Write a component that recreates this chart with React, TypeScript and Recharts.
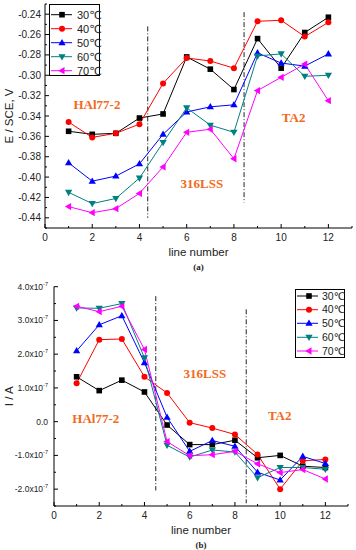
import React from 'react';
import { LineChart, Line, XAxis, YAxis, ReferenceLine, ReferenceDot, Legend, Label } from 'recharts';

// ---------- data ----------
const lineNumbers = [1, 2, 3, 4, 5, 6, 7, 8, 9, 10, 11, 12];
const seriesNames = ['30℃', '40℃', '50℃', '60℃', '70℃'];

// (a) potential E / SCE, V
const potential30 = [-0.355, -0.358, -0.357, -0.342, -0.338, -0.282, -0.294, -0.314, -0.264, -0.293, -0.258, -0.243];
const potential40 = [-0.346, -0.361, -0.357, -0.348, -0.308, -0.283, -0.286, -0.293, -0.247, -0.246, -0.262, -0.248];
const potential50 = [-0.386, -0.404, -0.399, -0.387, -0.358, -0.336, -0.331, -0.329, -0.278, -0.288, -0.291, -0.279];
const potential60 = [-0.415, -0.426, -0.421, -0.401, -0.366, -0.332, -0.349, -0.356, -0.281, -0.279, -0.301, -0.300];
const potential70 = [-0.429, -0.435, -0.431, -0.416, -0.390, -0.356, -0.353, -0.382, -0.315, -0.302, -0.289, -0.325];

// (b) current I / A, in units of 1e-7 A
const current30 = [1.33, 0.92, 1.23, 0.88, -0.10, -0.68, -0.68, -0.55, -1.07, -1.00, -1.32, -1.36];
const current40 = [1.14, 2.43, 2.45, 1.33, 0.85, -0.03, -0.19, -0.38, -0.97, -2.00, -1.16, -1.12];
const current50 = [2.10, 2.87, 3.14, 1.75, 0.13, -0.88, -0.56, -0.73, -1.50, -1.73, -1.03, -1.24];
const current60 = [3.37, 3.36, 3.50, 1.89, -0.70, -1.05, -0.84, -0.90, -1.66, -1.36, -1.36, -1.41];
const current70 = [3.42, 3.26, 3.42, 2.14, -0.59, -1.01, -0.98, -0.88, -1.25, -1.51, -1.42, -1.70];

const xTicks = [0, 1, 2, 3, 4, 5, 6, 7, 8, 9, 10, 11, 12, 13];
const xLabelTicks = [0, 2, 4, 6, 8, 10, 12];
const yTicksA = [-0.45, -0.44, -0.43, -0.42, -0.41, -0.40, -0.39, -0.38, -0.37, -0.36, -0.35, -0.34, -0.33, -0.32, -0.31, -0.30, -0.29, -0.28, -0.27, -0.26, -0.25, -0.24, -0.23];
const yLabelTicksA = [-0.44, -0.42, -0.40, -0.38, -0.36, -0.34, -0.32, -0.30, -0.28, -0.26, -0.24];
const yTicksB = [-2.5, -2, -1.5, -1, -0.5, 0, 0.5, 1, 1.5, 2, 2.5, 3, 3.5, 4];
const yLabelTicksB = [-2, -1, 0, 1, 2, 3, 4];

// material regions (boundaries, in data coordinates)
const boundariesA = [
  { x: 4.35, y1: -0.252, y2: -0.44 },
  { x: 8.43, y1: -0.238, y2: -0.425 },
];
const boundariesB = [
  { x: 4.5, y1: 3.72, y2: -2.04 },
  { x: 8.5, y1: 3.33, y2: -2.42 },
];
const labelsA = [
  { text: 'HAl77-2', x: 2.2, y: -0.3285 },
  { text: '316LSS', x: 6.64, y: -0.406 },
  { text: 'TA2', x: 10.53, y: -0.3413 },
];
const labelsB = [
  { text: 'HAl77-2', x: 1.85, y: 0.11 },
  { text: '316LSS', x: 6.67, y: 1.44 },
  { text: 'TA2', x: 9.98, y: 0.2 },
];

const dataA = lineNumbers.map((n, i) => ({
  n, s30: potential30[i], s40: potential40[i], s50: potential50[i], s60: potential60[i], s70: potential70[i],
}));
const dataB = lineNumbers.map((n, i) => ({
  n, s30: current30[i], s40: current40[i], s50: current50[i], s60: current60[i], s70: current70[i],
}));

// ---------- styles ----------
const SANS = '"Liberation Sans", Arial, "DejaVu Sans", sans-serif';
const SERIF = '"Liberation Serif", "Times New Roman", serif';
const ORANGE = '#f26a1b';
const seriesStyle = [
  { key: 's30', color: '#000000', shape: 'square' },
  { key: 's40', color: '#ff0000', shape: 'circle' },
  { key: 's50', color: '#0000ff', shape: 'up' },
  { key: 's60', color: '#008080', shape: 'down' },
  { key: 's70', color: '#ff00ff', shape: 'left' },
];

function Marker({ shape, cx, cy, color, s = 2.8 }: any) {
  if (cx == null || cy == null) return null;
  switch (shape) {
    case 'square':
      return <rect x={cx - s} y={cy - s} width={2 * s} height={2 * s} fill={color} />;
    case 'circle':
      return <circle cx={cx} cy={cy} r={s + 0.2} fill={color} />;
    case 'up':
      return <polygon points={`${cx},${cy - s * 1.35} ${cx - s * 1.3},${cy + s * 0.9} ${cx + s * 1.3},${cy + s * 0.9}`} fill={color} />;
    case 'down':
      return <polygon points={`${cx},${cy + s * 1.35} ${cx - s * 1.3},${cy - s * 0.9} ${cx + s * 1.3},${cy - s * 0.9}`} fill={color} />;
    case 'left':
      return <polygon points={`${cx - s * 1.35},${cy} ${cx + s * 0.9},${cy - s * 1.3} ${cx + s * 0.9},${cy + s * 1.3}`} fill={color} />;
    default:
      return null;
  }
}

const makeDot = (shape: string, color: string) => (props: any) => (
  <g key={`${shape}-${props.index}`}>
    <Marker shape={shape} cx={props.cx} cy={props.cy} color={color} />
  </g>
);

const XTick = (props: any) => {
  const { x, y, payload } = props;
  const v = payload.value;
  const major = xLabelTicks.includes(v);
  return (
    <g>
      <line x1={x} x2={x} y1={y} y2={y - (major ? 4 : 2)} stroke="#000" />
      {major && (
        <text x={x} y={y + 13} textAnchor="middle" fontSize={10} fill="#222" fontFamily={SANS}>{v}</text>
      )}
    </g>
  );
};

const YTickA = (props: any) => {
  const { x, y, payload } = props;
  const v = payload.value;
  const major = yLabelTicksA.some((t) => Math.abs(t - v) < 1e-6);
  return (
    <g>
      <line x1={x} x2={x + (major ? 4 : 2)} y1={y} y2={y} stroke="#000" />
      {major && (
        <text x={x - 4} y={y} dy="0.35em" textAnchor="end" fontSize={10} fill="#222" fontFamily={SANS}>{v.toFixed(2)}</text>
      )}
    </g>
  );
};

const YTickARight = (props: any) => {
  const { x, y, payload } = props;
  const v = payload.value;
  const major = yLabelTicksA.some((t) => Math.abs(t - v) < 1e-6);
  if (!major) return null;
  return <line x1={x} x2={x - 4} y1={y} y2={y} stroke="#000" />;
};

const YTickB = (props: any) => {
  const { x, y, payload } = props;
  const v = payload.value;
  const major = yLabelTicksB.includes(v);
  return (
    <g>
      <line x1={x} x2={x + (major ? 4 : 2)} y1={y} y2={y} stroke="#000" />
      {major && (
        <text x={x - 6} y={y} dy="0.35em" textAnchor="end" fontSize={8.5} fill="#222" fontFamily={SANS}>
          {v === 0 ? '0.0' : (
            <>
              <tspan>{`${v.toFixed(1)}x10`}</tspan>
              <tspan dy={-4} fontSize={5.5}>-7</tspan>
            </>
          )}
        </text>
      )}
    </g>
  );
};

const LegendBox = ({ width, height, rows, fontSize, lineX2, markerX, textX }: any) => (
  <svg width={width} height={height} style={{ display: 'block', overflow: 'visible' }}>
    <rect x={0.5} y={0.5} width={width - 1} height={height - 1} fill="#fff" stroke="#000" />
    {seriesStyle.map((s, i) => (
      <g key={s.key}>
        <line x1={2} x2={lineX2} y1={rows[i]} y2={rows[i]} stroke={s.color} />
        <Marker shape={s.shape} cx={markerX} cy={rows[i]} color={s.color} />
        <text x={textX} y={rows[i]} dy="0.35em" fontSize={fontSize} fill="#222" fontFamily={SANS}>{seriesNames[i]}</text>
      </g>
    ))}
  </svg>
);

const yTitle = (text: string) => (props: any) => {
  const vb = props.viewBox || {};
  const cy = vb.y + vb.height / 2;
  return (
    <text x={9} y={cy} transform={`rotate(-90, 9, ${cy})`} textAnchor="middle" dominantBaseline="central" fontSize={11.5} fill="#222" fontFamily={SANS}>{text}</text>
  );
};

const xTitle = (text: string, caption: string) => (props: any) => {
  const vb = props.viewBox || {};
  const cx = vb.x + vb.width / 2;
  return (
    <g>
      <text x={cx} y={vb.y + 24} textAnchor="middle" dominantBaseline="central" fontSize={11.5} fill="#222" fontFamily={SANS}>{text}</text>
      <text x={cx} y={vb.y + 38.5} textAnchor="middle" dominantBaseline="central" fontSize={9} fontWeight="bold" fill="#222" fontFamily={SERIF}>{caption}</text>
    </g>
  );
};

const regionLabel = (text: string) => ({
  value: text, position: 'center' as const, fill: ORANGE, fontSize: 13, fontWeight: 'bold', fontFamily: SERIF,
});

export default function App() {
  return (
    <div style={{ position: 'absolute', left: 0, top: 0, width: 356, height: 550, background: '#fff' }}>
      <div style={{ position: 'absolute', left: 0, top: 0 }}>
        <LineChart width={356} height={275} data={dataA} margin={{ top: 4, right: 4, bottom: 0, left: 0 }}>
          <XAxis dataKey="n" type="number" domain={[0, 13]} ticks={xTicks} interval={0} height={47}
            tick={<XTick />} tickLine={false} tickSize={0} tickMargin={0} axisLine={{ stroke: '#000' }}>
            <Label content={xTitle('line number', '(a)')} />
          </XAxis>
          <XAxis xAxisId="top" orientation="top" type="number" domain={[0, 13]} height={0} tick={false} tickLine={false} axisLine={{ stroke: '#000' }} />
          <YAxis type="number" domain={[-0.45, -0.23]} ticks={yTicksA} interval={0} width={45}
            tick={<YTickA />} tickLine={false} tickSize={0} tickMargin={0} axisLine={{ stroke: '#000' }}>
            <Label content={yTitle('E / SCE, V')} />
          </YAxis>
          <YAxis yAxisId="right" orientation="right" type="number" domain={[-0.45, -0.23]} ticks={yTicksA} interval={0} width={0}
            tick={<YTickARight />} tickLine={false} tickSize={0} tickMargin={0} axisLine={{ stroke: '#000' }} />
          {boundariesA.map((b, i) => (
            <ReferenceLine key={`ba${i}`} segment={[{ x: b.x, y: b.y1 }, { x: b.x, y: b.y2 }]} stroke="#222" strokeDasharray="5 2 1 2" />
          ))}
          {labelsA.map((l, i) => (
            <ReferenceDot key={`la${i}`} x={l.x} y={l.y} r={0} fill="none" stroke="none" label={regionLabel(l.text)} />
          ))}
          {seriesStyle.map((s, i) => (
            <Line key={s.key} dataKey={s.key} name={seriesNames[i]} stroke={s.color} strokeWidth={1}
              dot={makeDot(s.shape, s.color)} activeDot={false} isAnimationActive={false} />
          ))}
          <Legend layout="vertical" align="center" verticalAlign="middle"
            wrapperStyle={{ position: 'absolute', left: 49, top: 4, width: 51, height: 72, margin: 0, padding: 0 }}
            content={() => (
              <LegendBox width={51} height={72} rows={[10.7, 24.7, 38.7, 52.7, 66.7]} fontSize={11} lineX2={23} markerX={13} textX={28} />
            )} />
        </LineChart>
      </div>
      <div style={{ position: 'absolute', left: 0, top: 275 }}>
        <LineChart width={356} height={275} data={dataB} margin={{ top: 11.7, right: 8, bottom: 0, left: 0 }}>
          <XAxis dataKey="n" type="number" domain={[0, 13]} ticks={xTicks} interval={0} height={44}
            tick={<XTick />} tickLine={false} tickSize={0} tickMargin={0} axisLine={{ stroke: '#000' }}>
            <Label content={xTitle('line number', '(b)')} />
          </XAxis>
          <XAxis xAxisId="top" orientation="top" type="number" domain={[0, 13]} height={0} tick={false} tickLine={false} axisLine={{ stroke: '#000' }} />
          <YAxis type="number" domain={[-2.5, 4]} ticks={yTicksB} interval={0} width={54}
            tick={<YTickB />} tickLine={false} tickSize={0} tickMargin={0} axisLine={{ stroke: '#000' }}>
            <Label content={yTitle('I / A')} />
          </YAxis>
          <YAxis yAxisId="right" orientation="right" type="number" domain={[-2.5, 4]} width={0} tick={false} tickLine={false} axisLine={{ stroke: '#000' }} />
          {boundariesB.map((b, i) => (
            <ReferenceLine key={`bb${i}`} segment={[{ x: b.x, y: b.y1 }, { x: b.x, y: b.y2 }]} stroke="#222" strokeDasharray="5 2 1 2" />
          ))}
          {labelsB.map((l, i) => (
            <ReferenceDot key={`lb${i}`} x={l.x} y={l.y} r={0} fill="none" stroke="none" label={regionLabel(l.text)} />
          ))}
          {seriesStyle.map((s, i) => (
            <Line key={s.key} dataKey={s.key} name={seriesNames[i]} stroke={s.color} strokeWidth={1}
              dot={makeDot(s.shape, s.color)} activeDot={false} isAnimationActive={false} />
          ))}
          <Legend layout="vertical" align="center" verticalAlign="middle"
            wrapperStyle={{ position: 'absolute', left: 295, top: 14, width: 50, height: 69, margin: 0, padding: 0 }}
            content={() => (
              <LegendBox width={50} height={69} rows={[7, 20.7, 34.3, 48.3, 62]} fontSize={10.5} lineX2={23} markerX={14} textX={27} />
            )} />
        </LineChart>
      </div>
    </div>
  );
}
